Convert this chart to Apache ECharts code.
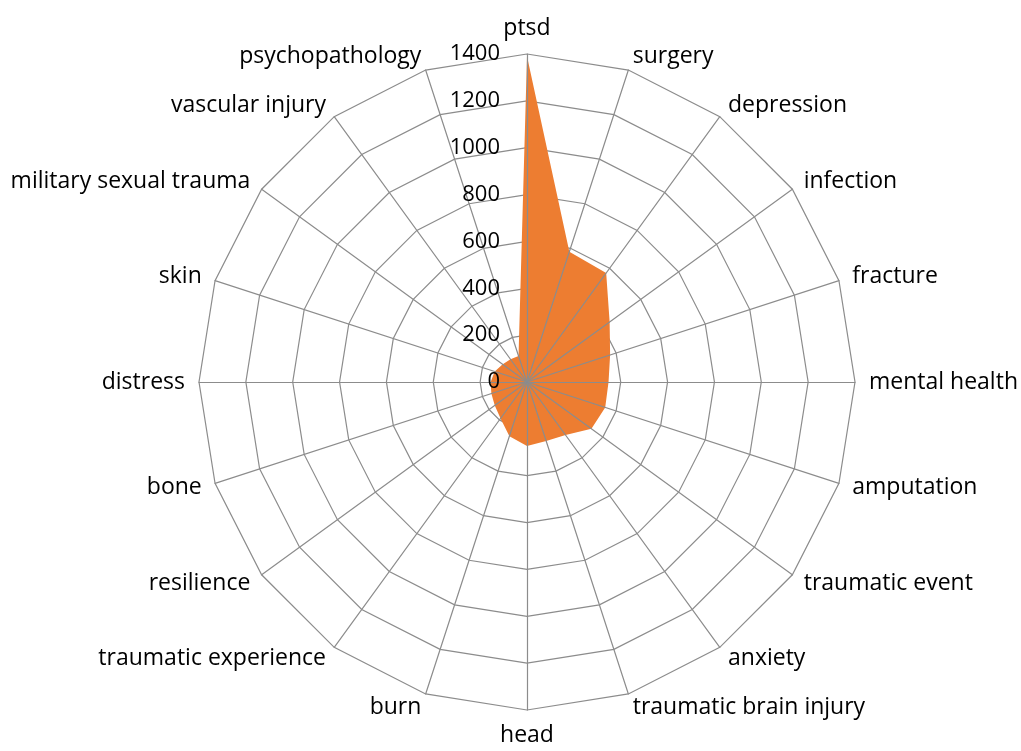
<!DOCTYPE html>
<html>
<head>
<meta charset="utf-8">
<script src="https://cdn.jsdelivr.net/npm/echarts@6/dist/echarts.min.js"></script>
<style>
  html, body { margin: 0; padding: 0; background: #fff; }
  #chart { width: 1021px; height: 751px; }
</style>
</head>
<body>
<div id="chart"></div>
<script>
// categories in the order they appear clockwise from the top
const categories = [
  'ptsd', 'surgery', 'depression', 'infection', 'fracture', 'mental health',
  'amputation', 'traumatic event', 'anxiety', 'traumatic brain injury', 'head',
  'burn', 'traumatic experience', 'resilience', 'bone', 'distress', 'skin',
  'military sexual trauma', 'vascular injury', 'psychopathology'
];
const values = [
  1390, 585, 575, 436, 373, 348,
  351, 340, 280, 265, 273,
  243, 192, 170, 160, 155, 145,
  128, 120, 117
];
const axisMax = 1400;
const ringCount = 7; // 0, 200, ... 1400

// echarts lays radar indicators out counter-clockwise, so flip everything after the first
const ccwCats = [categories[0]].concat(categories.slice(1).reverse());
const ccwValues = [values[0]].concat(values.slice(1).reverse());

const gridColor = '#8c8c8c';
const font = 'Open Sans';

function makeIndicators(withLabel) {
  return ccwCats.map((name, i) => {
    const ind = { name: name, min: 0, max: axisMax };
    if (withLabel) ind.axisLabel = { show: i === 0 };
    return ind;
  });
}

const chart = echarts.init(document.getElementById('chart'));
const base = {
  center: [527, 382],
  radius: 328,
  startAngle: 90,
  shape: 'polygon',
  splitNumber: ringCount
};

chart.setOption({
  animation: false,
  radar: [
    // rings only, sit under the filled area
    Object.assign({}, base, {
      z: 1,
      indicator: makeIndicators(false),
      axisName: { show: false },
      axisLine: { show: false },
      axisTick: { show: false },
      axisLabel: { show: false },
      splitLine: { lineStyle: { color: gridColor, width: 1.2 } },
      splitArea: { show: false }
    }),
    // spokes, names and value labels on top of the area
    Object.assign({}, base, {
      z: 3,
      indicator: makeIndicators(true),
      nameGap: 14,
      axisName: { color: '#000', fontSize: 23, fontFamily: font },
      axisLine: { lineStyle: { color: gridColor, width: 1.2 } },
      axisTick: { show: false },
      axisLabel: {
        show: false, color: '#000', fontSize: 22, fontFamily: font, margin: 27,
        formatter: v => String(v)
      },
      splitLine: { show: false },
      splitArea: { show: false }
    })
  ],
  series: [
    {
      type: 'radar',
      radarIndex: 0,
      z: 2,
      symbol: 'none',
      lineStyle: { width: 0 },
      areaStyle: { color: '#ED7D31', opacity: 1 },
      data: [{ value: ccwValues }]
    }
  ]
});
</script>
</body>
</html>
